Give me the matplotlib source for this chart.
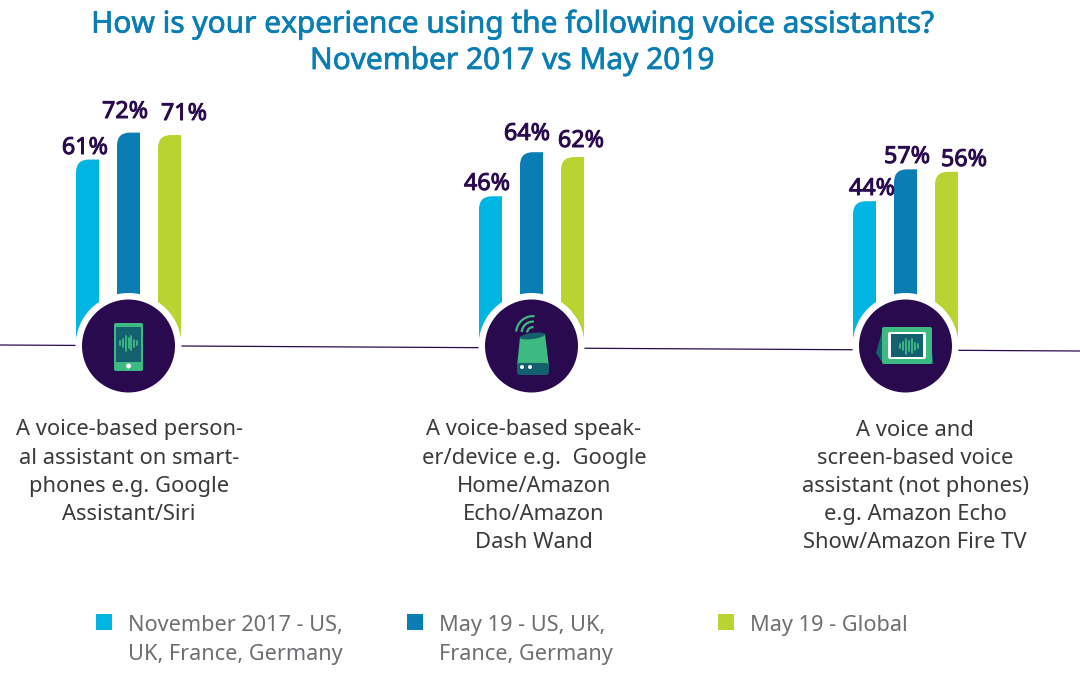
#!/usr/bin/env python3
# -*- coding: utf-8 -*-

import matplotlib
matplotlib.use("Agg")
import matplotlib.pyplot as plt
import matplotlib.patheffects as pe
from matplotlib.patches import Circle, PathPatch, Polygon, Rectangle, FancyBboxPatch, Wedge, Ellipse
from matplotlib.path import Path

plt.rcParams['font.family'] = ['Noto Sans', 'DejaVu Sans']

title_lines = ["How is your experience using the following voice assistants?",
               "November 2017 vs May 2019"]
series_names = ["November 2017 - US,\nUK, France, Germany",
                "May 19 - US, UK,\nFrance, Germany",
                "May 19 - Global"]
nov17_west = [61, 46, 44]
may19_west = [72, 64, 57]
may19_global = [71, 62, 56]
descriptions = ["A voice-based person-\nal assistant on smart-\nphones e.g. Google\nAssistant/Siri",
                "A voice-based speak-\ner/device e.g.  Google\nHome/Amazon\nEcho/Amazon\nDash Wand",
                "A voice and\nscreen-based voice\nassistant (not phones)\ne.g. Amazon Echo\nShow/Amazon Fire TV"]

colors = ['#00b5e2', '#0a7db5', '#b9d331']
purple = '#2a0a4e'
green = '#3dba82'
teal = '#15606f'

px_per_pct = 2.45
zero_y = 309
group_x = [128.5, 531.5, 905.5]
bar_off = [-41, 0, 41]
bar_w = 23
corner = 13
bar_floor = -15

fig = plt.figure(figsize=(10.8, 6.75), dpi=100)

# value axes, y in percent lined up with the picture
ax = fig.add_axes([0, 0, 1, 1])
ax.set_xlim(0, 1080)
ax.set_ylim((zero_y - 675) / px_per_pct, zero_y / px_per_pct)
ax.axis('off')

# pixel axes for everything decorative
px = fig.add_axes([0, 0, 1, 1], zorder=2)
px.set_xlim(0, 1080)
px.set_ylim(675, 0)
px.axis('off')
px.patch.set_alpha(0)

def round_bar(x0, value, color):
    x1 = x0 + bar_w
    rv = corner / px_per_pct
    verts = [(x0, bar_floor), (x0, value - rv), (x0, value), (x0 + corner, value),
             (x1, value), (x1, bar_floor), (x0, bar_floor)]
    codes = [Path.MOVETO, Path.LINETO, Path.CURVE3, Path.CURVE3,
             Path.LINETO, Path.LINETO, Path.CLOSEPOLY]
    ax.add_patch(PathPatch(Path(verts, codes), fc=color, ec='none'))

for s, vals in enumerate([nov17_west, may19_west, may19_global]):
    for g, v in enumerate(vals):
        round_bar(group_x[g] + bar_off[s] - bar_w / 2, v, colors[s])

# no heavy weight in the font here, a thin stroke thickens it
def heavy(c, lw):
    return [pe.withStroke(linewidth=lw, foreground=c)]

# value labels sit off-centre in the original
label_xy = [[(85, 148), (125, 112), (184, 114)],
            [(487, 184), (527, 134), (581, 141)],
            [(872, 189), (907, 157), (964, 160)]]
for g, vals in enumerate(zip(nov17_west, may19_west, may19_global)):
    for s, v in enumerate(vals):
        x, y = label_xy[g][s]
        px.text(x, y, "%d%%" % v, ha='center', va='center', fontsize=16.8,
                color=purple, path_effects=heavy(purple, 0.7))

px.plot([0, 1080], [345, 351], color=purple, lw=0.9, zorder=1)

for cx in group_x:
    px.add_patch(Circle((cx, 346), 53, fc='white', ec='none', zorder=2))
    px.add_patch(Circle((cx, 346), 46.5, fc=purple, ec='none', zorder=3))

def wave(cx, cy, color):
    hs = [2, 4, 7.5, 5, 7, 3.5, 2]
    for i, h in enumerate(hs):
        x = cx + (i - 3) * 2.9
        px.plot([x, x], [cy - h, cy + h], color=color, lw=1.3, zorder=6, solid_capstyle='round')

# phone
cx = group_x[0]
px.add_patch(FancyBboxPatch((cx - 14.5, 323), 29, 48, boxstyle='round,pad=0,rounding_size=2', fc=green, ec='none', zorder=4))
px.add_patch(Rectangle((cx - 12.5, 327), 25, 35, fc=teal, ec='none', zorder=5))
px.add_patch(Circle((cx, 366), 2.5, fc='white', ec='none', zorder=5))
wave(cx, 343, green)

# speaker
cx = group_x[1]
px.add_patch(Polygon([(cx - 11.5, 337), (cx + 13.5, 334), (cx + 17.5, 367), (cx - 14.5, 367)], closed=True, fc=green, ec='none', zorder=4))
px.add_patch(FancyBboxPatch((cx - 14.5, 363), 32, 12, boxstyle='round,pad=0,rounding_size=3', fc=teal, ec='none', zorder=5))
px.add_patch(Ellipse((cx + 1, 336), 25, 6, angle=-8, fc=teal, ec='none', zorder=5))
px.add_patch(Circle((cx - 9.5, 367), 2, fc='white', ec='none', zorder=6))
px.add_patch(Circle((cx - 1.5, 367), 2, fc='white', ec='none', zorder=6))
for r in [7, 12.5, 18]:
    px.add_patch(Wedge((cx + 1.5, 333), r, 185, 275, width=2.2, fc=green, ec='none', zorder=4))

# screen device
cx = group_x[2]
px.add_patch(Polygon([(cx - 29.5, 353), (cx - 22.5, 328), (cx + 24, 328), (cx + 28, 364), (cx - 22, 364)], closed=True, fc=teal, ec='none', zorder=4))
px.add_patch(FancyBboxPatch((cx - 23.5, 327), 50, 37, boxstyle='round,pad=0,rounding_size=2', fc=green, ec='none', zorder=4))
px.add_patch(FancyBboxPatch((cx - 17.5, 332), 38, 27, boxstyle='round,pad=0,rounding_size=2', fc='white', ec='none', zorder=5))
px.add_patch(Rectangle((cx - 14.5, 334), 32, 23, fc=teal, ec='none', zorder=5))
wave(cx + 3.5, 346, green)

for i, line in enumerate(title_lines):
    px.text(512, 25 + 36.5 * i, line, ha='center', va='center', fontsize=21.5,
            color='#0a7db5', path_effects=heavy('#0a7db5', 0.5))

for cx, txt in zip([129, 534, 915], descriptions):
    px.text(cx, 419.5, txt, ha='center', va='top', fontsize=15.8, color='#3a3a3c', linespacing=1.44)

for lx, name, c in zip([96, 407, 718], series_names, colors):
    px.add_patch(Rectangle((lx, 614), 16, 15.5, fc=c, ec='none'))
    px.text(lx + 32, 615, name, ha='left', va='top', fontsize=15.6, color='#6d6e71', linespacing=1.5)

fig.savefig('out.png', dpi=100)
